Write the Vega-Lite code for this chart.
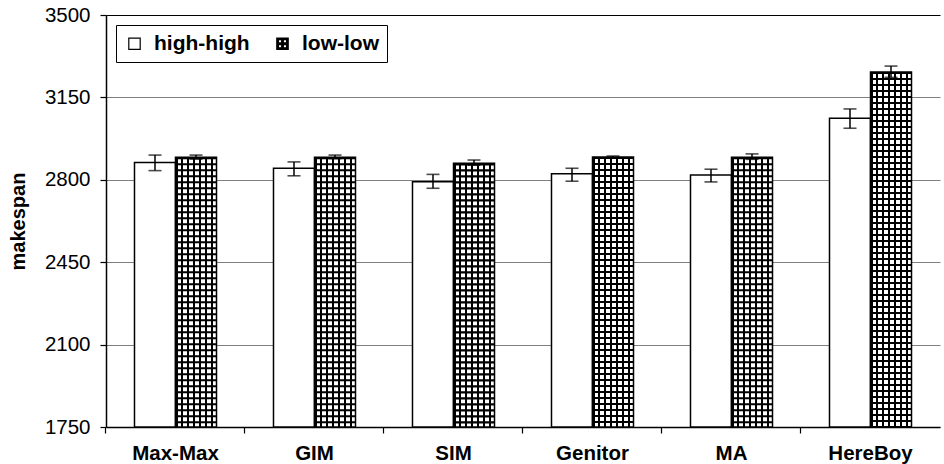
{
  "$schema": "https://vega.github.io/schema/vega-lite/v6.json",
  "width": 834,
  "height": 412,
  "autosize": {"type": "none"},
  "padding": {"left": 106, "top": 15, "right": 4, "bottom": 37},
  "background": "white",
  "config": {
    "font": "Liberation Sans",
    "view": {"stroke": null},
    "axis": {"labelFont": "Liberation Sans", "titleFont": "Liberation Sans"}
  },
  "data": {
    "values": [
      {"alg": "Max-Max", "series": "high-high", "mean": 2873, "lo": 2839, "hi": 2905},
      {"alg": "Max-Max", "series": "low-low", "mean": 2896, "lo": 2888, "hi": 2905},
      {"alg": "GIM", "series": "high-high", "mean": 2849, "lo": 2817, "hi": 2876},
      {"alg": "GIM", "series": "low-low", "mean": 2896, "lo": 2890, "hi": 2905},
      {"alg": "SIM", "series": "high-high", "mean": 2792, "lo": 2764, "hi": 2823},
      {"alg": "SIM", "series": "low-low", "mean": 2870, "lo": 2862, "hi": 2884},
      {"alg": "Genitor", "series": "high-high", "mean": 2826, "lo": 2794, "hi": 2849},
      {"alg": "Genitor", "series": "low-low", "mean": 2897, "lo": 2893, "hi": 2901},
      {"alg": "MA", "series": "high-high", "mean": 2820, "lo": 2791, "hi": 2845},
      {"alg": "MA", "series": "low-low", "mean": 2896, "lo": 2887, "hi": 2910},
      {"alg": "HereBoy", "series": "high-high", "mean": 3061, "lo": 3019, "hi": 3101},
      {"alg": "HereBoy", "series": "low-low", "mean": 3258, "lo": 3235, "hi": 3283}
    ]
  },
  "encoding": {
    "x": {
      "field": "alg",
      "type": "nominal",
      "sort": ["Max-Max", "GIM", "SIM", "Genitor", "MA", "HereBoy"],
      "scale": {"paddingInner": 0.41, "paddingOuter": 0.205},
      "axis": {
        "title": null,
        "labelFontSize": 20.5,
        "labelFontWeight": "bold",
        "labelColor": "black",
        "labelAngle": 0,
        "labelPadding": 10,
        "domainColor": "black",
        "domainWidth": 1.5,
        "tickColor": "black",
        "tickWidth": 1.2,
        "tickSize": 6,
        "bandPosition": -0.3476,
        "grid": false
      }
    },
    "xOffset": {"field": "series", "type": "nominal", "sort": ["high-high", "low-low"]},
    "y": {
      "field": "mean",
      "type": "quantitative",
      "scale": {"domain": [1750, 3500], "zero": false, "nice": false},
      "axis": {
        "title": "makespan",
        "titleFontSize": 20,
        "titleFontWeight": "bold",
        "titleColor": "black",
        "titlePadding": 16,
        "labelFontSize": 20.5,
        "labelColor": "black",
        "labelPadding": 10,
        "format": "d",
        "values": [1750, 2100, 2450, 2800, 3150, 3500],
        "grid": true,
        "gridColor": {"condition": {"test": "datum.value === 3500", "value": "black"}, "value": "#808080"},
        "gridWidth": 1.2,
        "domainColor": "black",
        "domainWidth": 1.5,
        "tickColor": "black",
        "tickWidth": 1.2,
        "tickSize": 6
      }
    }
  },
  "layer": [
    {
      "transform": [{"filter": "datum.series === 'low-low'"}],
      "mark": {
        "type": "bar",
        "strokeWidth": 0,
        "fill": {
          "gradient": "linear", "x1": 0, "y1": 0, "x2": 1, "y2": 0,
          "stops": [
            {"offset": 0, "color": "black"}, {"offset": 0.05, "color": "black"}, {"offset": 0.05, "color": "white"}, {"offset": 0.142857, "color": "white"},
            {"offset": 0.142857, "color": "black"}, {"offset": 0.192857, "color": "black"}, {"offset": 0.192857, "color": "white"}, {"offset": 0.285714, "color": "white"},
            {"offset": 0.285714, "color": "black"}, {"offset": 0.335714, "color": "black"}, {"offset": 0.335714, "color": "white"}, {"offset": 0.428571, "color": "white"},
            {"offset": 0.428571, "color": "black"}, {"offset": 0.478571, "color": "black"}, {"offset": 0.478571, "color": "white"}, {"offset": 0.571429, "color": "white"},
            {"offset": 0.571429, "color": "black"}, {"offset": 0.621429, "color": "black"}, {"offset": 0.621429, "color": "white"}, {"offset": 0.714286, "color": "white"},
            {"offset": 0.714286, "color": "black"}, {"offset": 0.764286, "color": "black"}, {"offset": 0.764286, "color": "white"}, {"offset": 0.857143, "color": "white"},
            {"offset": 0.857143, "color": "black"}, {"offset": 0.907143, "color": "black"}, {"offset": 0.907143, "color": "white"}, {"offset": 1, "color": "white"}
          ]
        }
      },
      "encoding": {"y2": {"datum": 1750}}
    },
    {
      "transform": [{"filter": "datum.series === 'low-low'"}],
      "mark": {"type": "rule", "stroke": "black", "strokeWidth": 41, "strokeDash": [2.1, 3.9], "strokeCap": "butt"},
      "encoding": {"y2": {"datum": 1750}}
    },
    {
      "transform": [{"filter": "datum.series === 'high-high'"}],
      "mark": {"type": "bar", "fill": "white", "stroke": "black", "strokeWidth": 1.5},
      "encoding": {"y2": {"datum": 1750}}
    },
    {
      "transform": [{"filter": "datum.series === 'low-low'"}],
      "mark": {"type": "bar", "fill": "transparent", "stroke": "black", "strokeWidth": 1.5},
      "encoding": {"y2": {"datum": 1750}}
    },
    {
      "mark": {"type": "rule", "stroke": "black", "strokeWidth": 1.5},
      "encoding": {"y": {"field": "lo", "type": "quantitative"}, "y2": {"field": "hi"}}
    },
    {
      "mark": {"type": "tick", "color": "black", "size": 13, "thickness": 1.6},
      "encoding": {"y": {"field": "lo", "type": "quantitative"}}
    },
    {
      "mark": {"type": "tick", "color": "black", "size": 13, "thickness": 1.6},
      "encoding": {"y": {"field": "hi", "type": "quantitative"}}
    },
    {
      "mark": {"type": "point", "size": 0, "filled": true, "strokeWidth": 1.2},
      "encoding": {
        "fill": {
          "field": "series",
          "type": "nominal",
          "scale": {"domain": ["high-high", "low-low"], "range": ["white", "black"]}
        },
        "stroke": {
          "field": "series",
          "type": "nominal",
          "scale": {"domain": ["high-high", "low-low"], "range": ["black", "black"]}
        },
        "shape": {
          "field": "series",
          "type": "nominal",
          "scale": {"domain": ["high-high", "low-low"], "range": ["square", "M-1,-1H1V1H-1ZM-0.72,-0.72V-0.14H-0.14V-0.72ZM0.14,-0.72V-0.14H0.72V-0.72ZM-0.72,0.14V0.72H-0.14V0.14ZM0.14,0.14V0.72H0.72V0.14Z"]},
          "legend": {
            "title": null,
            "orient": "top-left",
            "offset": 10,
            "direction": "horizontal",
            "labelFont": "Liberation Sans",
            "labelFontSize": 21,
            "labelFontWeight": "bold",
            "labelColor": "black",
            "symbolSize": 130,
            "symbolStrokeWidth": 1.2,
            "symbolOpacity": 1,
            "labelOffset": 9,
            "columnPadding": 22,
            "padding": 8,
            "strokeColor": "black",
            "fillColor": "white",
            "cornerRadius": 0
          }
        }
      }
    }
  ]
}
